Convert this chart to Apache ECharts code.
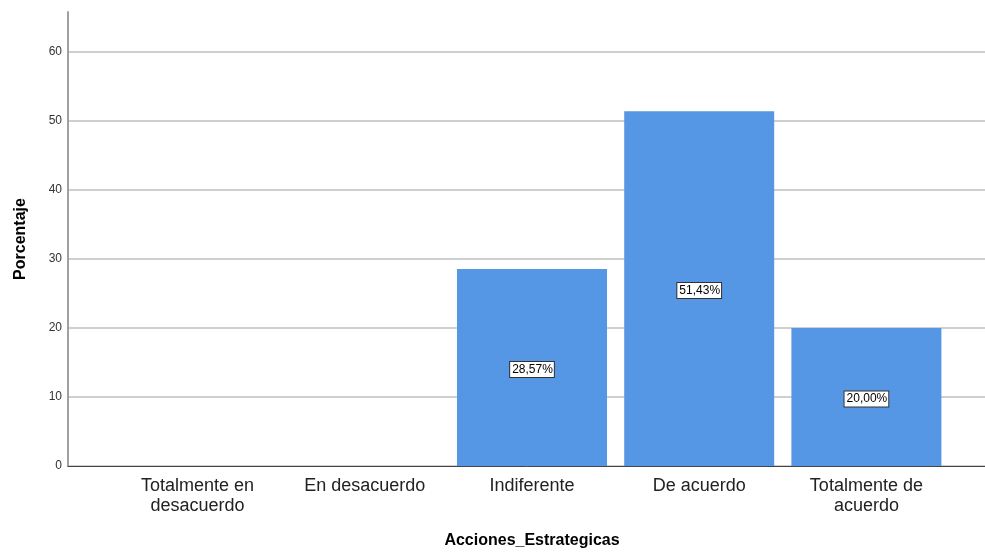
<!DOCTYPE html>
<html>
<head>
<meta charset="utf-8">
<script src="https://cdn.jsdelivr.net/npm/echarts@6/dist/echarts.min.js"></script>
<style>
  html, body { margin: 0; padding: 0; background: #fff; }
  #chart { width: 985px; height: 552px; }
</style>
</head>
<body>
<div id="chart"></div>
<script>
const categories = ['Totalmente en\ndesacuerdo', 'En desacuerdo', 'Indiferente', 'De acuerdo', 'Totalmente de\nacuerdo']
const percentages = [0, 0, 28.57, 51.43, 20.0]
const yTicks = { min: 0, max: 65.8, interval: 10 }

const font = '"Liberation Sans", Arial, sans-serif'

// zero bars get no label box
const barData = percentages.map(v => ({
  value: v,
  label: { show: v > 0 }
}))

const chart = echarts.init(document.getElementById('chart'))

chart.setOption({
  animation: false,
  textStyle: { fontFamily: font },
  grid: [
    { left: 68, right: 0, top: 12, bottom: 86, outerBoundsMode: 'none', containLabel: false },
    { left: 114, right: 35, top: 12, bottom: 86, outerBoundsMode: 'none', containLabel: false }
  ],
  xAxis: [
    {
      gridIndex: 0,
      type: 'value',
      min: 0,
      max: 1,
      axisLine: { show: true, lineStyle: { color: '#444', width: 1 } },
      axisTick: { show: false },
      axisLabel: { show: false },
      splitLine: { show: false }
    },
    {
      gridIndex: 1,
      type: 'category',
      data: categories,
      axisLine: { show: false },
      axisTick: { show: false },
      axisLabel: {
        color: '#222',
        fontSize: 18,
        lineHeight: 20,
        margin: 10,
        interval: 0,
        fontFamily: font
      },
      name: 'Acciones_Estrategicas',
      nameLocation: 'middle',
      nameGap: 67,
      nameTextStyle: { color: '#000', fontSize: 16, fontWeight: 'bold', fontFamily: font }
    }
  ],
  yAxis: [
    {
      gridIndex: 0,
      type: 'value',
      min: yTicks.min,
      max: yTicks.max,
      interval: yTicks.interval,
      axisLine: { show: true, lineStyle: { color: '#a0a0a0', width: 2 } },
      axisTick: { show: false },
      axisLabel: { color: '#333', fontSize: 12, margin: 6, showMaxLabel: false, fontFamily: font },
      splitLine: { show: true, showMaxLine: false, lineStyle: { color: '#cfcfcf', width: 2 } },
      name: 'Porcentaje',
      nameLocation: 'middle',
      nameGap: 39,
      nameTextStyle: { color: '#000', fontSize: 16, fontWeight: 'bold', fontFamily: font }
    },
    {
      gridIndex: 1,
      type: 'value',
      min: yTicks.min,
      max: yTicks.max,
      interval: yTicks.interval,
      show: false,
      splitLine: { show: false }
    }
  ],
  series: [
    {
      type: 'bar',
      xAxisIndex: 1,
      yAxisIndex: 1,
      data: barData,
      barWidth: 150,
      itemStyle: { color: '#5596e5' },
      label: {
        position: 'inside',
        offset: [0, 2],
        color: '#000',
        fontSize: 12,
        fontFamily: font,
        backgroundColor: '#fff',
        borderColor: '#333',
        borderWidth: 1,
        padding: [2, 1, 1, 2],
        formatter: p => p.value.toFixed(2).replace('.', ',') + '%'
      }
    }
  ]
})
</script>
</body>
</html>
